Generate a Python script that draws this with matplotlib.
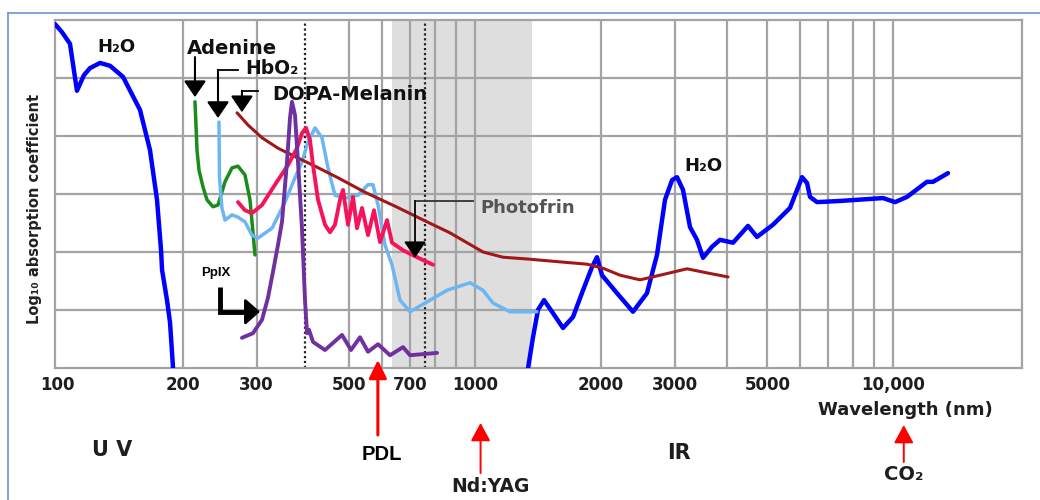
import matplotlib
matplotlib.use('Agg')
import matplotlib.pyplot as plt
from matplotlib.lines import Line2D
from matplotlib.ticker import NullLocator

# ---------------- data (wavelength in nm, log10 absorption in arbitrary decades) ----------------
h2o_uv_nm = [98.8, 102.7, 107.3, 111.5, 115.9, 119.8, 126.6, 133.8, 143.7, 157.8, 166.7,
             173.3, 177.2, 178.2, 183.1, 186.2, 189.3]
h2o_uv_y = [5.93, 5.79, 5.59, 4.78, 5.05, 5.17, 5.26, 5.21, 5.02, 4.45, 3.76,
            2.90, 2.03, 1.69, 1.17, 0.78, 0.0]

adenine_nm = [213.6, 214.8, 216.0, 218.4, 223.3, 228.2, 235.9, 242.5, 252.0, 261.9, 270.7,
              281.3, 289.2, 294.0, 297.3]
adenine_y = [4.59, 4.19, 3.76, 3.41, 3.12, 2.90, 2.78, 2.81, 3.21, 3.45, 3.48,
             3.33, 2.90, 2.34, 1.95]

hbo2_nm = [243.8, 244.5, 247.8, 252.0, 261.9, 270.7, 281.3, 292.4, 302.3, 326.5, 350.7,
           370.6, 385.1, 398.1, 413.8, 430.0, 444.5, 461.9, 488.1, 524.4, 554.1, 569.6,
           585.5, 608.5, 632.4, 660.9, 698.3, 758.5, 856.1, 971.9, 1044, 1103, 1211, 1405]
hbo2_y = [4.24, 3.28, 2.76, 2.55, 2.64, 2.60, 2.52, 2.29, 2.24, 2.41, 2.86,
          3.28, 3.55, 3.90, 4.14, 3.97, 3.45, 2.98, 2.93, 2.98, 3.16, 3.16,
          2.81, 2.12, 1.78, 1.17, 0.97, 1.12, 1.34, 1.47, 1.34, 1.12, 0.97, 0.97]

photofrin_nm = [270.7, 281.3, 292.4, 309.0, 331.9, 356.6, 374.7, 385.1, 393.8, 402.5, 409.2,
                420.7, 437.2, 449.4, 461.9, 474.9, 482.8, 496.3, 510.1, 521.5, 536.1, 554.1,
                572.7, 592.0, 615.3, 632.4, 671.9, 725.8, 792.7]
photofrin_y = [2.86, 2.72, 2.67, 2.81, 3.16, 3.50, 3.79, 4.05, 4.14, 3.93, 3.50,
               2.90, 2.47, 2.34, 2.47, 2.90, 3.07, 2.47, 2.95, 2.41, 2.76, 2.29,
               2.72, 2.17, 2.55, 2.16, 2.03, 1.91, 1.78]

melanin_nm = [269.3, 286.0, 309.0, 337.4, 376.8, 413.8, 469.6, 545.0, 643.0, 766.9, 870.5,
              955.9, 1044, 1165, 1330, 1595, 1851, 2022, 2221, 2479, 2768, 3212, 3585, 4025]
melanin_y = [4.40, 4.19, 3.97, 3.79, 3.62, 3.48, 3.28, 3.03, 2.79, 2.52, 2.33,
             2.16, 2.00, 1.91, 1.88, 1.83, 1.79, 1.72, 1.60, 1.52, 1.60, 1.71, 1.64, 1.57]

ppix_nm = [276.7, 294.0, 309.0, 319.3, 328.3, 337.4, 345.0, 354.6, 360.5, 364.5, 370.6,
           376.8, 385.1, 391.6, 396.0, 400.3, 409.2, 437.2, 480.2, 504.5, 530.2, 554.1,
           585.5, 625.5, 671.9, 698.3, 810.4]
ppix_y = [0.52, 0.60, 0.83, 1.21, 1.66, 2.12, 2.52, 3.55, 4.31, 4.59, 4.36,
          3.55, 2.41, 1.17, 0.60, 0.66, 0.45, 0.31, 0.57, 0.31, 0.53, 0.28,
          0.41, 0.22, 0.36, 0.22, 0.26]

h2o_ir_nm = [1338, 1375, 1413, 1461, 1527, 1622, 1714, 1811, 1903, 1956, 2011, 2184, 2385,
             2576, 2722, 2845, 2958, 3040, 3142, 3265, 3393, 3508, 3686, 3852, 4138, 4494,
             4722, 5157, 5664, 5888, 6053, 6221, 6324, 6573, 7459, 9453, 10100, 10790,
             12044, 12453, 13524]
h2o_ir_y = [0.0, 0.53, 1.00, 1.17, 0.97, 0.69, 0.88, 1.34, 1.74, 1.91, 1.60, 1.29, 0.97,
            1.29, 1.95, 2.90, 3.24, 3.29, 3.07, 2.43, 2.21, 1.90, 2.09, 2.21, 2.16, 2.45,
            2.26, 2.47, 2.76, 3.07, 3.29, 3.19, 2.95, 2.86, 2.88, 2.93, 2.86, 2.95,
            3.21, 3.21, 3.36]

tick_nm = [100, 200, 300, 500, 700, 1000, 2000, 3000, 5000, 10000]
tick_labels = ['100', '200', '300', '500', '700', '1000', '2000', '3000', '5000', '10,000']
grid_nm = [200, 300, 500, 600, 700, 800, 900, 1000, 2000, 3000, 4000, 5000,
           6000, 7000, 8000, 9000, 10000]
visible_nm = [392, 760]
window_nm = [632, 1370]
laser_nm = {'PDL': 585, 'Nd:YAG': 1030, 'CO₂': 10600}

# ---------------- figure ----------------
W, H = 1040, 500
fig = plt.figure(figsize=(W / 100, H / 100), dpi=100)
fig.patch.set_facecolor('white')


def fx(px):
    return px / W


def fy(py):
    return 1 - py / H


ax = fig.add_axes([fx(55), fy(368), 967 / W, 348 / H])
ax.set_xscale('log')
ax.set_xlim(98.8, 20330)
ax.set_ylim(0, 6)
ax.set_facecolor('white')

gridc = '#a3a3a3'
ax.axvspan(window_nm[0], window_nm[1], color='#dedede', lw=0, zorder=0)
for g in grid_nm:
    ax.axvline(g, color=gridc, lw=1.6, zorder=1)
for yv in range(1, 6):
    ax.axhline(yv, color=gridc, lw=1.6, zorder=1)
for v in visible_nm:
    ax.axvline(v, color='#222222', lw=1.6, ls=(0, (1.0, 1.2)), zorder=2)
for s in ax.spines.values():
    s.set_color(gridc)
    s.set_linewidth(1.6)

ax.set_xticks(tick_nm)
ax.set_xticklabels(tick_labels, fontweight='bold', fontsize=12, color='#1e1e1e',
                   family='DejaVu Sans')
ax.xaxis.set_minor_locator(NullLocator())
ax.tick_params(axis='x', length=0, pad=6)
ax.set_yticks([])

# ---------------- curves ----------------
kw = dict(solid_joinstyle='round', solid_capstyle='round', zorder=4)
ax.plot(h2o_uv_nm, h2o_uv_y, color='#0000ff', lw=3.2, **kw)
ax.plot(h2o_ir_nm, h2o_ir_y, color='#0000ff', lw=3.2, **kw)
ax.plot(adenine_nm, adenine_y, color='#1a8c1a', lw=2.5, **kw)
ax.plot(hbo2_nm, hbo2_y, color='#6cb6f2', lw=2.5, **kw)
ax.plot(melanin_nm, melanin_y, color='#a01818', lw=2.2, **kw)
ax.plot(photofrin_nm, photofrin_y, color='#f5145a', lw=2.8, **kw)
ax.plot(ppix_nm, ppix_y, color='#7030a0', lw=2.8, **kw)

# ---------------- in-plot labels and arrows ----------------
bold = dict(fontweight='bold', family='DejaVu Sans', color='#111111')
ax.text(138.3, 5.53, 'H₂O', fontsize=13, ha='center', va='center', **bold)
ax.text(261.9, 5.50, 'Adenine', fontsize=14, ha='center', va='center', **bold)
ax.text(326.5, 5.16, 'HbO₂', fontsize=13.5, ha='center', va='center', **bold)
ax.text(501.7, 4.72, 'DOPA-Melanin', fontsize=14, ha='center', va='center', **bold)
ax.text(1027, 2.76, 'Photofrin', fontsize=13, ha='left', va='center',
        fontweight='bold', family='DejaVu Sans', color='#555555')
ax.text(3508, 3.48, 'H₂O', fontsize=13, ha='center', va='center', **bold)
ax.text(239.9, 1.64, 'PpIX', fontsize=9.5, ha='center', va='center',
        fontweight='bold', family='Liberation Sans', color='black')


def down_arrow(x, y0, y1, color='black', lw=1.5):
    ax.annotate('', xy=(x, y1), xytext=(x, y0),
                arrowprops=dict(arrowstyle='-|>,head_length=0.5,head_width=0.34',
                                mutation_scale=20, color=color, lw=lw,
                                shrinkA=0, shrinkB=0), zorder=6)


# Adenine
down_arrow(213.6, 5.36, 4.67)
# HbO2
ax.plot([242.5, 270.7], [5.14, 5.14], color='black', lw=1.3, zorder=6)
down_arrow(242.5, 5.14, 4.31)
# DOPA-Melanin
ax.plot([276.7, 302.3], [4.78, 4.78], color='black', lw=1.3, zorder=6)
down_arrow(276.7, 4.78, 4.41)
# Photofrin
ax.plot([717.8, 988], [2.88, 2.88], color='#333333', lw=1.3, zorder=6)
down_arrow(717.8, 2.88, 1.90, color='black', lw=1.3)
# PpIX thick L arrow
ax.plot([245.1, 245.1, 290], [1.40, 0.97, 0.97], color='black', lw=3.5,
        solid_joinstyle='miter', solid_capstyle='butt', zorder=6)
ax.annotate('', xy=(305.6, 0.97), xytext=(285, 0.97),
            arrowprops=dict(arrowstyle='-|>,head_length=0.45,head_width=0.4',
                            mutation_scale=20, color='black', lw=2.0,
                            shrinkA=0, shrinkB=0), zorder=6)

# ---------------- laser arrows below the axis ----------------
xt = ax.get_xaxis_transform()


def up_arrow(x, y_tail, y_tip, lw, hw, color_head='#ff0000'):
    ax.annotate('', xy=(x, y_tip), xytext=(x, y_tail), xycoords=xt, textcoords=xt,
                annotation_clip=False,
                arrowprops=dict(arrowstyle=f'-|>,head_length=0.55,head_width={hw}',
                                mutation_scale=20, color=color_head, lw=lw,
                                shrinkA=0, shrinkB=0), zorder=6)


up_arrow(laser_nm['PDL'], -0.1925, 0.023, 2.2, 0.27)
up_arrow(laser_nm['Nd:YAG'], -0.302, -0.158, 1.4, 0.30)
up_arrow(laser_nm['CO₂'], -0.270, -0.164, 1.4, 0.30)

# ---------------- texts outside the axes ----------------
fig.text(fx(35), fy(209), 'Log₁₀ absorption coefficient', rotation=90, ha='center',
         va='center', fontsize=10.5, fontweight='bold', family='DejaVu Sans', color='#222222')
fig.text(fx(905), fy(410), 'Wavelength (nm)', ha='center', va='center', fontsize=13,
         fontweight='bold', family='DejaVu Sans', color='#1e1e1e')
fig.text(fx(112), fy(450), 'U V', ha='center', va='center', fontsize=15,
         fontweight='bold', family='DejaVu Sans', color='#1e1e1e')
fig.text(fx(679), fy(453), 'IR', ha='center', va='center', fontsize=15,
         fontweight='bold', family='DejaVu Sans', color='#1e1e1e')
fig.text(fx(382), fy(455), 'PDL', ha='center', va='center', fontsize=14.5,
         fontweight='bold', family='Liberation Sans', color='black')
fig.text(fx(490), fy(487), 'Nd:YAG', ha='center', va='center', fontsize=13.5,
         fontweight='bold', family='DejaVu Sans', color='#1e1e1e')
fig.text(fx(904), fy(474), 'CO₂', ha='center', va='center', fontsize=14,
         fontweight='bold', family='DejaVu Sans', color='#1e1e1e')

# ---------------- slide-like border ----------------
bc = '#6a95cf'
fig.add_artist(Line2D([fx(8), 1.0], [fy(13), fy(13)], color=bc, lw=1.2))
fig.add_artist(Line2D([fx(8), fx(8)], [fy(13), 0.0], color=bc, lw=1.2))

fig.savefig('out.png', dpi=100, facecolor='white')
